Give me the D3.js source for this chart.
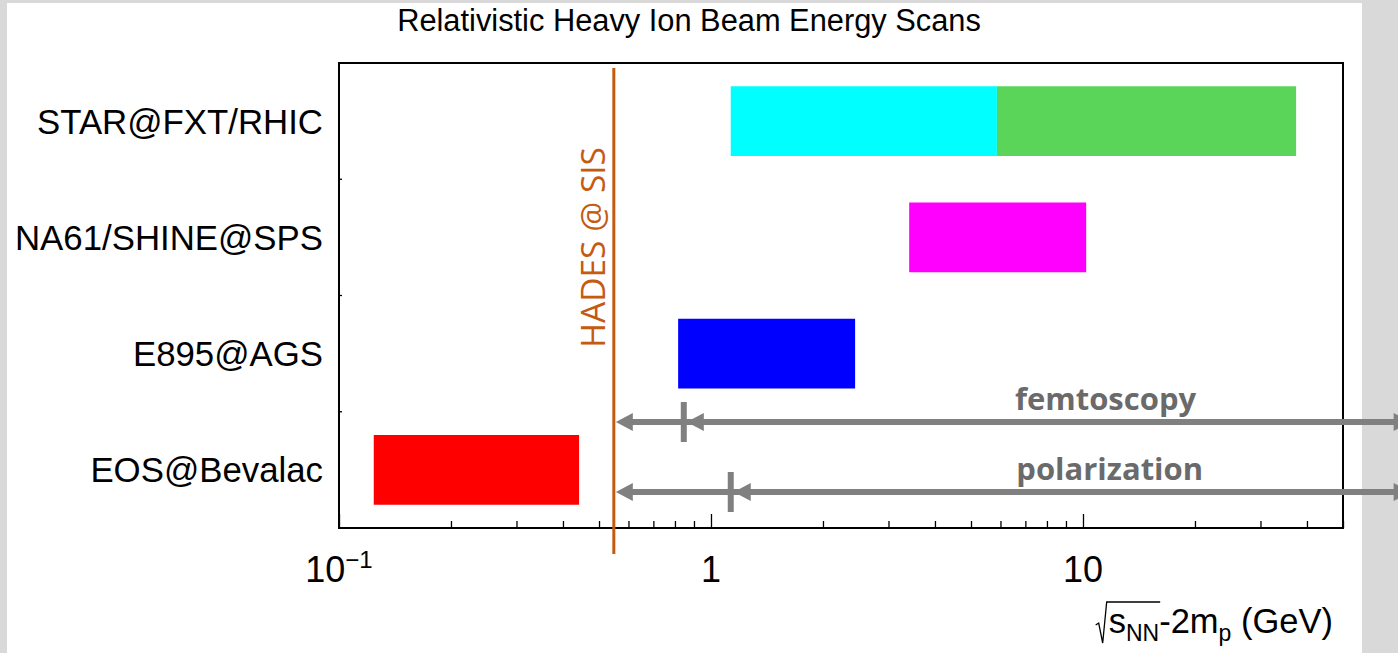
<!DOCTYPE html>
<html lang="en">
<head>
<title>Relativistic Heavy Ion Beam Energy Scans</title>
<style>
  body { margin: 0; background: #d9d9d9; overflow: hidden; }
  text { font-family: "Liberation Sans", Arial, sans-serif; }
  .note { font-family: "Open Sans", sans-serif; }
</style>
</head>
<body>
<div id="chart"></div>
<script src="https://d3js.org/d3.v7.min.js"></script>
<script>
// experiments, top to bottom
var experiments = ["STAR@FXT/RHIC", "NA61/SHINE@SPS", "E895@AGS", "EOS@Bevalac"];

// energy ranges covered by each scan (GeV)
var barExp = ["STAR@FXT/RHIC", "STAR@FXT/RHIC", "NA61/SHINE@SPS", "E895@AGS", "EOS@Bevalac"];
var barLow = [1.13, 5.87, 3.41, 0.816, 0.124];
var barHigh = [5.87, 37.4, 10.2, 2.44, 0.442];
var barColor = ["#00ffff", "#5ad55a", "#ff00ff", "#0000ff", "#ff0000"];

var hadesEnergy = 0.548;

// measurement reach arrows
var probeNames = ["femtoscopy", "polarization"];
var probeStart = [0.845, 1.13];
var probeEnd = 76;
var probeLabelAt = [11.5, 11.8];

var tickLabels = [[0.1, "10", "\u22121"], [1, "1", ""], [10, "10", ""]];

var W = 1398, H = 653;
var svg = d3.select("#chart").append("svg")
    .attr("width", W)
    .attr("height", H);

// white slide panel
svg.append("rect")
    .attr("x", 7).attr("y", 3)
    .attr("width", 1355).attr("height", H)
    .attr("fill", "#fff");

var pLeft = 339, pRight = 1343, pTop = 63, pBottom = 528;

var x = d3.scaleLog().domain([0.1, 50]).range([pLeft, pRight]);
var y = d3.scaleBand().domain(experiments).range([pTop, pBottom])
    .paddingInner(0.4).paddingOuter(0.2);

// title
svg.append("text")
    .attr("x", 689).attr("y", 31)
    .attr("text-anchor", "middle")
    .style("font-size", "30.8px")
    .text("Relativistic Heavy Ion Beam Energy Scans");

// bars
var bars = barExp.map(function(e, i) {
  return { exp: e, lo: barLow[i], hi: barHigh[i], color: barColor[i] };
});
svg.append("g").selectAll("rect")
  .data(bars)
  .enter().append("rect")
    .attr("x", function(d) { return x(d.lo); })
    .attr("width", function(d) { return x(d.hi) - x(d.lo); })
    .attr("y", function(d) { return y(d.exp); })
    .attr("height", y.bandwidth())
    .attr("fill", function(d) { return d.color; });

// x axis, ticks pointing inward
var xAxis = d3.axisBottom(x)
    .tickValues(x.ticks())
    .tickSize(-7)
    .tickFormat("");
var gx = svg.append("g")
    .attr("transform", "translate(0," + pBottom + ")")
    .call(xAxis);
gx.select(".domain").remove();
gx.selectAll(".tick line")
    .attr("stroke", "#000")
    .attr("stroke-width", 1.3)
    .attr("y2", function(d) {
      return Math.abs(Math.log10(d) - Math.round(Math.log10(d))) < 1e-6 ? -14 : -7;
    });

// left axis ticks at band boundaries
var step = y.step();
var bounds = experiments.slice(1).map(function(e) { return y(e) - step * y.paddingInner() / 2; });
svg.append("g").selectAll("line")
  .data(bounds)
  .enter().append("line")
    .attr("x1", pLeft).attr("x2", pLeft + 3)
    .attr("y1", function(d) { return d; })
    .attr("y2", function(d) { return d; })
    .attr("stroke", "#000").attr("stroke-width", 1.3);

// frame
svg.append("rect")
    .attr("x", pLeft).attr("y", pTop)
    .attr("width", pRight - pLeft).attr("height", pBottom - pTop)
    .attr("fill", "none")
    .attr("stroke", "#000")
    .attr("stroke-width", 2);

// category labels
svg.append("g").selectAll("text")
  .data(experiments)
  .enter().append("text")
    .attr("x", 323)
    .attr("y", function(d) { return y(d) + y.bandwidth() / 2; })
    .attr("dy", "0.36em")
    .attr("text-anchor", "end")
    .style("font-size", "34.8px")
    .text(function(d) { return d; });

// tick labels
var tl = svg.append("g").selectAll("text")
  .data(tickLabels)
  .enter().append("text")
    .attr("x", function(d) { return x(d[0]); })
    .attr("y", 582)
    .attr("text-anchor", "middle")
    .style("font-size", "36px");
tl.append("tspan").text(function(d) { return d[1]; });
tl.append("tspan")
    .attr("dy", -14)
    .style("font-size", "24px")
    .text(function(d) { return d[2]; });

// HADES line and label
var hx = x(hadesEnergy);
svg.append("line")
    .attr("x1", hx).attr("x2", hx)
    .attr("y1", pTop + 5).attr("y2", pBottom + 26)
    .attr("stroke", "#c55a11")
    .attr("stroke-width", 3);
svg.append("text")
    .attr("class", "note")
    .attr("transform", "translate(" + (hx - 21) + "," + (y(experiments[1]) + y.bandwidth() / 2 + 10) + ") rotate(-90)")
    .attr("text-anchor", "middle")
    .attr("dy", "0.35em")
    .attr("fill", "#c55a11")
    .style("font-size", "33.5px")
    .text("HADES @ SIS");

// arrows
var bandEOS = y(experiments[3]);
var probeY = [bandEOS - 13, bandEOS + 57];
var grey = "#808080";
function head(tip, yy, dir) {
  var L = 17, h = 9;
  return "M" + tip + "," + yy + "L" + (tip + dir * L) + "," + (yy - h) +
         "L" + (tip + dir * L) + "," + (yy + h) + "Z";
}
probeNames.forEach(function(name, i) {
  var yy = probeY[i], xs = x(probeStart[i]), xe = x(probeEnd);
  var g = svg.append("g");
  g.append("line")
      .attr("x1", hx + 10).attr("x2", xe - 10)
      .attr("y1", yy).attr("y2", yy)
      .attr("stroke", grey).attr("stroke-width", 6);
  g.append("line")
      .attr("x1", xs).attr("x2", xs)
      .attr("y1", yy - 20).attr("y2", yy + 20)
      .attr("stroke", grey).attr("stroke-width", 6);
  g.append("path").attr("d", head(hx + 2, yy, 1)).attr("fill", grey);
  g.append("path").attr("d", head(xs + 3, yy, 1)).attr("fill", grey);
  g.append("path").attr("d", head(xe, yy, -1)).attr("fill", grey);
  g.append("text")
      .attr("class", "note")
      .attr("x", x(probeLabelAt[i]))
      .attr("y", yy - 12)
      .attr("text-anchor", "middle")
      .attr("fill", "#6a6a6a")
      .style("font-size", "31px")
      .style("font-weight", "bold")
      .text(name);
});

// x axis title: sqrt(s_NN) - 2 m_p (GeV)
var by = 633;
var xt = svg.append("text")
    .attr("x", 1333).attr("y", by)
    .attr("text-anchor", "end")
    .style("font-size", "34.5px");
xt.append("tspan").text("s");
xt.append("tspan").attr("dy", 8).style("font-size", "23px").text("NN");
xt.append("tspan").attr("dy", -8).text("-2m");
xt.append("tspan").attr("dy", 8).style("font-size", "23px").text("p");
xt.append("tspan").attr("dy", -8).text(" (GeV)");
var node = xt.node();
var sx = node.getStartPositionOfChar(0).x;
var nx = node.getEndPositionOfChar(2).x;
svg.append("path")
    .attr("d", "M" + (sx - 13) + "," + (by - 8) + "L" + (sx - 10) + "," + (by - 10) +
               "L" + (sx - 6) + "," + (by + 10) + "L" + (sx - 2) + "," + (by - 31) +
               "L" + (nx + 1) + "," + (by - 31))
    .attr("fill", "none")
    .attr("stroke", "#000")
    .attr("stroke-width", 1.3);
</script>
</body>
</html>
